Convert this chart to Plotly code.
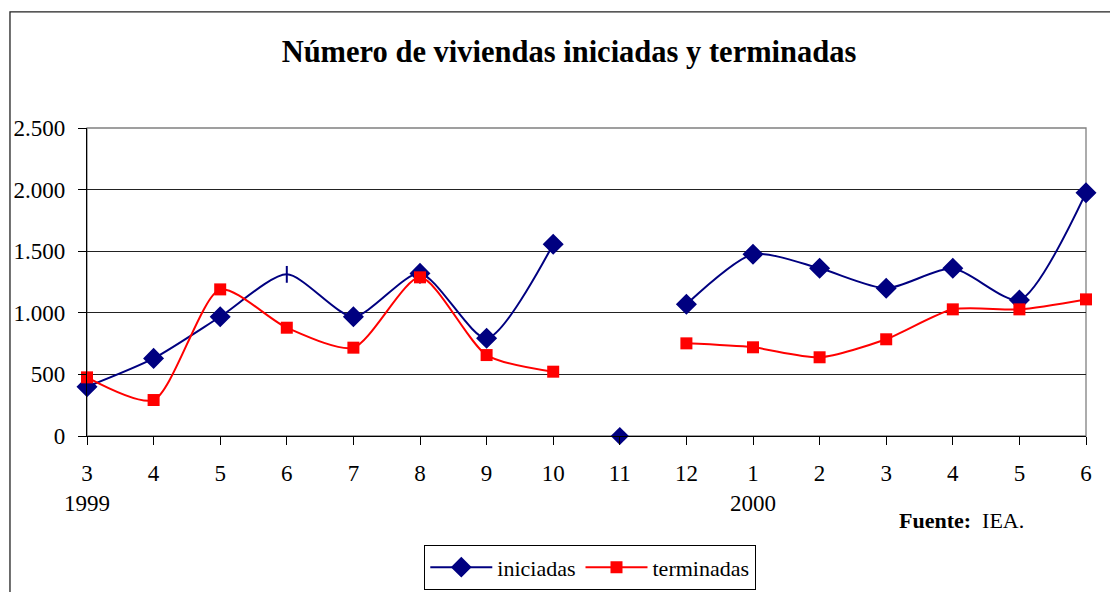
import plotly.graph_objects as go

# datos (meses mar-1999 a jun-2000)
meses = ["3", "4", "5", "6", "7", "8", "9", "10", "11", "12", "1", "2", "3", "4", "5", "6"]
anios = {0: "1999", 10: "2000"}
iniciadas = [400, 630, 968, 1312, 968, 1320, 793, 1556, 0, 1069, 1475, 1361, 1199, 1361, 1104, 1975]
terminadas = [476, 292, 1190, 879, 717, 1288, 657, 522, None, 752, 720, 639, 785, 1028, 1028, 1109]

AZUL = "#000080"
ROJO = "#FF0000"
FUENTE = "Liberation Serif"

x = list(range(len(meses)))
ticktext = [m + ("<br>" + anios[i] if i in anios else "") for i, m in enumerate(meses)]

# el valor 0 de noviembre aparece suelto, sin línea
ini_linea = [v if v else None for v in iniciadas]
simbolos = ["line-ns" if i == 3 else "diamond" for i in x]
tamanos = [12 if i == 3 else 14 for i in x]

fig = go.Figure()
fig.add_trace(go.Scatter(
    x=x, y=ini_linea, name="iniciadas", mode="lines+markers",
    line=dict(color=AZUL, width=2, shape="spline", smoothing=0.7),
    marker=dict(symbol=simbolos, size=tamanos, color=AZUL, opacity=1,
                line=dict(color=AZUL, width=2)),
    cliponaxis=False,
))
fig.add_trace(go.Scatter(
    x=[i for i in x if iniciadas[i] == 0], y=[v for v in iniciadas if v == 0],
    mode="markers", showlegend=False,
    marker=dict(symbol="diamond", size=14, color=AZUL, opacity=1), cliponaxis=False,
))
fig.add_trace(go.Scatter(
    x=x, y=terminadas, name="terminadas", mode="lines+markers",
    line=dict(color=ROJO, width=2, shape="spline", smoothing=0.7),
    marker=dict(symbol="square", size=12, color=ROJO, opacity=1),
    cliponaxis=False,
))

# marco exterior del gráfico
fig.add_shape(type="rect", xref="paper", yref="paper",
              x0=-0.0771, x1=1.05, y0=-0.6, y1=1.377,
              line=dict(color="#222", width=1.3), layer="below")
# borde del área de trazado
fig.add_shape(type="rect", xref="paper", yref="paper", x0=0, x1=1, y0=0, y1=1,
              line=dict(color="#808080", width=1.3), layer="below")

fig.add_annotation(x=0.811, y=-0.273, xref="paper", yref="paper",
                   xanchor="left", yanchor="middle",
                   text="<b>Fuente:</b>  IEA.", showarrow=False,
                   font=dict(family=FUENTE, size=22, color="black"))

fig.update_layout(
    width=1110, height=592,
    separators=",.",
    title=dict(text="<b>Número de viviendas iniciadas y terminadas</b>",
               x=569 / 1110, xanchor="center", y=1 - 51 / 592, yanchor="middle",
               font=dict(family=FUENTE, size=30.5, color="black")),
    plot_bgcolor="white", paper_bgcolor="white",
    margin=dict(l=87, r=24, t=128, b=156, autoexpand=False),
    font=dict(family=FUENTE, size=23, color="black"),
    xaxis=dict(range=[0, 15], tickvals=x, ticktext=ticktext, showgrid=False,
               zeroline=False, showline=True, linecolor="black", linewidth=1.3,
               ticks="outside", ticklen=8, tickcolor="black",
               tickfont=dict(size=23), ticklabelstandoff=8),
    yaxis=dict(range=[0, 2500], dtick=500, tickformat=",d", showgrid=True,
               gridcolor="#222", gridwidth=1.2, zeroline=False, showline=True,
               linecolor="black", linewidth=1.3, ticks="outside", ticklen=8,
               tickcolor="black", tickfont=dict(size=23), ticklabelstandoff=8),
    legend=dict(orientation="h", x=0.5035, xanchor="center", y=-0.354, yanchor="top",
                bordercolor="black", borderwidth=1.3, itemwidth=62,
                font=dict(family=FUENTE, size=22), tracegroupgap=0),
    showlegend=True,
)

fig.write_html("out.html", config={"displayModeBar": False},
               post_script="document.body.style.margin='0px';")
